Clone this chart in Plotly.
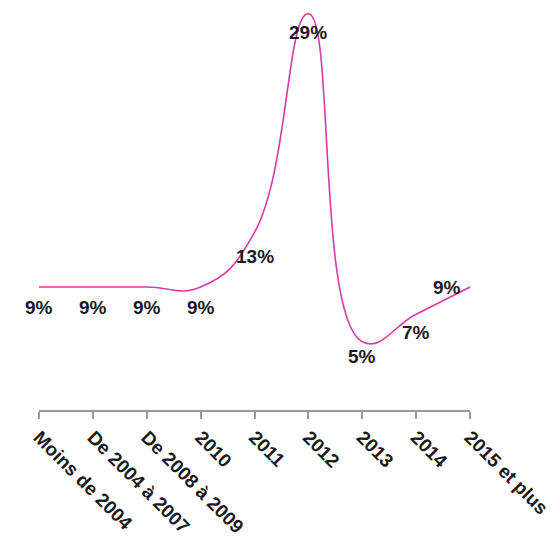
import plotly.graph_objects as go

categories = ["Moins de 2004", "De 2004 à 2007", "De 2008 à 2009", "2010", "2011",
              "2012", "2013", "2014", "2015 et plus"]
values = [9, 9, 9, 9, 13, 29, 5, 7, 9]
labels = [f"{v}%" for v in values]
label_dx = [0, 0, 0, 0, 0, 0, 0, 0, -23]
label_dy = [-20, -20, -20, -20, -24, -19, -15, -18, 0]

FONT = "Liberation Sans, Arial, sans-serif"

fig = go.Figure()
fig.add_trace(go.Scatter(
    x=categories, y=values, mode="lines",
    line=dict(color="#D63CA5", width=1.6, shape="spline", smoothing=1.3),
    hoverinfo="skip",
))

for i, (v, t, dx, dy) in enumerate(zip(values, labels, label_dx, label_dy)):
    fig.add_annotation(
        x=i, y=v, text=f"<b>{t}</b>", showarrow=False,
        xanchor="center", yanchor="middle", xshift=dx, yshift=dy,
        font=dict(family=FONT, size=19, color="#1a1a1a"),
    )

fig.update_layout(
    width=554, height=537,
    margin=dict(l=39, r=84, t=0, b=125),
    paper_bgcolor="white", plot_bgcolor="white",
    showlegend=False,
    font=dict(family=FONT, size=19, color="#1a1a1a"),
)
fig.update_xaxes(
    type="category", range=[0, 8], showgrid=False, zeroline=False,
    showline=True, linecolor="#999999", linewidth=1.5,
    ticks="outside", ticklen=7, tickcolor="#999999", tickwidth=1.5,
    tickangle=45,
    tickfont=dict(family=FONT, size=19, color="#1a1a1a", weight="bold"),
)
fig.update_yaxes(range=[0, 30], visible=False)

fig.write_html("out.html")
